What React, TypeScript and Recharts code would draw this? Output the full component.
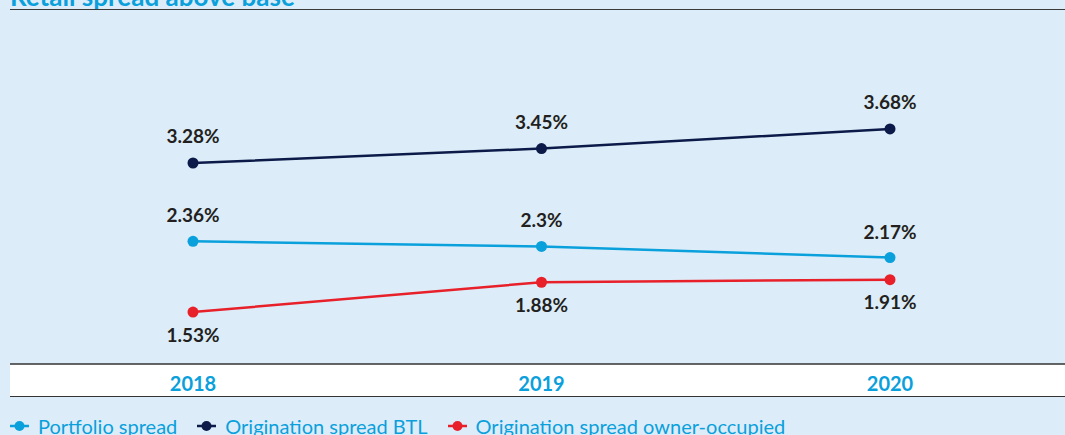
import { LabelList, Legend, Line, LineChart, XAxis, YAxis } from "recharts";

const years = ["2018", "2019", "2020"];
const portfolioSpread = [2.36, 2.3, 2.17];
const btlSpread = [3.28, 3.45, 3.68];
const ownerOccupiedSpread = [1.53, 1.88, 1.91];
const seriesNames = ["Portfolio spread", "Origination spread BTL", "Origination spread owner-occupied"];

const data = years.map((year, i) => ({
  year,
  portfolio: portfolioSpread[i],
  btl: btlSpread[i],
  owner: ownerOccupiedSpread[i],
}));

const CYAN = "#0AA0DC";
const NAVY = "#0B1A48";
const RED = "#E8202A";
const LABEL = "#231F20";

const pct = (v: any) => `${v}%`;

function LegendRow({ payload }: any) {
  const items = [...(payload || [])].sort(
    (a: any, b: any) => seriesNames.indexOf(a.value) - seriesNames.indexOf(b.value)
  );
  return (
    <div style={{ height: 38, boxSizing: "border-box", paddingTop: 19, display: "flex", lineHeight: "20px" }}>
      {items.map((p: any) => (
        <div key={p.value} style={{ display: "flex", alignItems: "center", marginRight: 20 }}>
          <svg width={19} height={12} style={{ marginRight: 9 }}>
            <line x1={0} y1={6} x2={19} y2={6} stroke={p.color} strokeWidth={2.5} />
            <circle cx={9.5} cy={6} r={5} fill={p.color} />
          </svg>
          <span style={{ color: CYAN, fontSize: 20 }}>{p.value}</span>
        </div>
      ))}
    </div>
  );
}

export default function App() {
  return (
    <div
      style={{
        position: "fixed",
        left: 0,
        top: 0,
        width: 1065,
        height: 435,
        background: "#DCEDF9",
        overflow: "hidden",
        fontFamily: "Lato, 'Open Sans', sans-serif",
      }}
    >
      <div
        style={{
          position: "absolute",
          left: 10,
          top: -17,
          fontSize: 26,
          lineHeight: "26px",
          fontWeight: 700,
          color: CYAN,
          whiteSpace: "nowrap",
        }}
      >
        Retail spread above base
      </div>
      <div style={{ position: "absolute", left: 10, right: 0, top: 9, borderTop: "1.5px solid #3a3a3a" }} />
      <div
        style={{
          position: "absolute",
          left: 10,
          right: 0,
          top: 364,
          height: 33,
          boxSizing: "border-box",
          background: "#FFFFFF",
          borderBottom: "1.5px solid #333",
        }}
      />
      <div style={{ position: "absolute", left: 0, top: 0 }}>
        <LineChart width={1065} height={435} data={data} margin={{ top: 8, right: 0, left: 10, bottom: 0 }}>
          <XAxis
            dataKey="year"
            height={33}
            padding={{ left: 183, right: 175 }}
            axisLine={{ stroke: "#333", strokeWidth: 1.5 }}
            tickLine={false}
            tickMargin={7}
            tick={{ fill: CYAN, fontSize: 20, fontWeight: 700 }}
          />
          <YAxis hide domain={[0.92, 5.1]} />
          <Legend verticalAlign="bottom" align="left" content={<LegendRow />} />
          <Line
            name="Portfolio spread"
            dataKey="portfolio"
            stroke={CYAN}
            strokeWidth={2.5}
            dot={{ r: 5.5, fill: CYAN, stroke: "none" }}
            activeDot={false}
            isAnimationActive={false}
          >
            <LabelList dataKey="portfolio" position="top" offset={19} formatter={pct} fill={LABEL} fontSize={19} fontWeight={700} />
          </Line>
          <Line
            name="Origination spread BTL"
            dataKey="btl"
            stroke={NAVY}
            strokeWidth={2.5}
            dot={{ r: 5.5, fill: NAVY, stroke: "none" }}
            activeDot={false}
            isAnimationActive={false}
          >
            <LabelList dataKey="btl" position="top" offset={20} formatter={pct} fill={LABEL} fontSize={19} fontWeight={700} />
          </Line>
          <Line
            name="Origination spread owner-occupied"
            dataKey="owner"
            stroke={RED}
            strokeWidth={2.5}
            dot={{ r: 5.5, fill: RED, stroke: "none" }}
            activeDot={false}
            isAnimationActive={false}
          >
            <LabelList dataKey="owner" position="bottom" offset={16} formatter={pct} fill={LABEL} fontSize={19} fontWeight={700} />
          </Line>
        </LineChart>
      </div>
    </div>
  );
}
